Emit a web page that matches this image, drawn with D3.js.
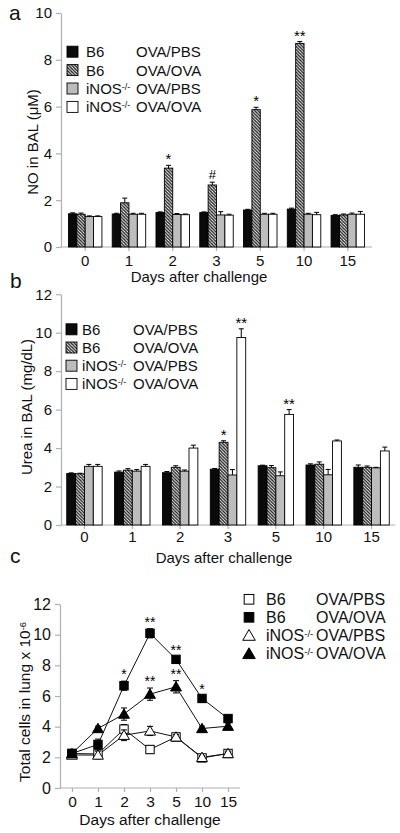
<!DOCTYPE html>
<html><head><meta charset="utf-8">
<script src="https://cdn.jsdelivr.net/npm/d3@7"></script>
<style>
body{margin:0;background:#fff;}
text{font-family:"Liberation Sans",Arial,sans-serif;fill:#111;}
</style></head>
<body><svg id="c" width="400" height="833"></svg>
<script>
// ---------- data ----------
const days = ["0","1","2","3","5","10","15"];
const strains = ["B6","B6","iNOS","iNOS"];
const treatments = ["OVA/PBS","OVA/OVA","OVA/PBS","OVA/OVA"];

// panel a: NO in BAL (uM)
const noB6PBS = [1.42,1.41,1.47,1.47,1.58,1.62,1.35];
const noB6OVA = [1.40,1.89,3.37,2.65,5.87,8.70,1.37];
const noKOPBS = [1.30,1.40,1.39,1.37,1.40,1.40,1.40];
const noKOOVA = [1.30,1.40,1.38,1.36,1.40,1.38,1.40];
const noB6PBSErr = [0.04,0.03,0.03,0.03,0.03,0.04,0.03];
const noB6OVAErr = [0.05,0.20,0.12,0.12,0.10,0.08,0.04];
const noKOPBSErr = [0.03,0.04,0.04,0.14,0.04,0.04,0.05];
const noKOOVAErr = [0.03,0.04,0.03,0.04,0.04,0.10,0.12];
const noMarks = [{d:"2",s:1,t:"*"},{d:"3",s:1,t:"#"},{d:"5",s:1,t:"*"},{d:"10",s:1,t:"**"}];

// panel b: Urea in BAL (mg/dL)
const ureaB6PBS = [2.68,2.75,2.72,2.90,3.08,3.12,3.00];
const ureaB6OVA = [2.66,2.85,3.00,4.30,2.98,3.16,3.00];
const ureaKOPBS = [3.05,2.80,2.80,2.60,2.56,2.61,2.97];
const ureaKOOVA = [3.05,3.05,4.00,9.75,5.75,4.37,3.85];
const ureaB6PBSErr = [0.03,0.06,0.06,0.04,0.03,0.06,0.12];
const ureaB6OVAErr = [0.03,0.08,0.08,0.08,0.11,0.12,0.07];
const ureaKOPBSErr = [0.10,0.08,0.06,0.28,0.20,0.28,0.03];
const ureaKOOVAErr = [0.10,0.10,0.15,0.45,0.25,0.05,0.20];
const ureaMarks = [{d:"3",s:1,t:"*"},{d:"3",s:3,t:"**"},{d:"5",s:3,t:"**"}];

// panel c: Total cells in lung x 10^-6
const cellsB6PBS = [2.25,2.22,3.84,2.51,3.33,1.96,2.25];
const cellsB6OVA = [2.25,2.84,6.67,10.09,8.39,5.84,4.53];
const cellsKOPBS = [2.15,2.15,3.44,3.72,3.33,2.00,2.25];
const cellsKOOVA = [2.25,3.88,4.82,6.12,6.60,3.88,4.03];
const cellsB6PBSErr = [0.2,0.2,0.3,0.25,0.15,0.1,0.15];
const cellsB6OVAErr = [0.2,0.35,0.3,0.3,0.15,0.15,0.15];
const cellsKOPBSErr = [0.2,0.25,0.35,0.3,0.15,0.1,0.15];
const cellsKOOVAErr = [0.2,0.15,0.4,0.4,0.4,0.15,0.2];
const cellMarks = [{d:"2",s:1,t:"*"},{d:"3",s:1,t:"**"},{d:"5",s:1,t:"**"},{d:"10",s:1,t:"*"},{d:"3",s:3,t:"**"},{d:"5",s:3,t:"**"}];

// ---------- drawing ----------
const svg = d3.select("#c");
const axisCol = "#b0b0b0";
const defs = svg.append("defs");
const pat = defs.append("pattern").attr("id","hatch").attr("patternUnits","userSpaceOnUse")
  .attr("width",3.2).attr("height",3.2);
pat.append("rect").attr("width",3.2).attr("height",3.2).attr("fill","#fff");
pat.append("path").attr("d","M0,0 L3.2,3.2 M-1,2.2 L1,4.2 M2.2,-1 L4.2,1")
  .attr("stroke","#222").attr("stroke-width",1.3);
const fills = ["#0a0a0a","url(#hatch)","#bdbdbd","#ffffff"];

function styleAxis(g, fs){
  g.select(".domain").attr("stroke",axisCol).attr("stroke-width",1.2);
  g.selectAll(".tick line").attr("stroke",axisCol).attr("stroke-width",1.2);
  g.selectAll(".tick text").style("font-size",fs+"px").attr("fill","#111");
}

function supLabel(sel, base, sup, after){
  sel.append("tspan").text(base);
  sel.append("tspan").attr("dy","-0.45em").style("font-size","0.6em").text(sup);
  if(after!==undefined) sel.append("tspan").attr("dy","0.27em").text(after);
}

function barPanel(cfg){
  const x0 = d3.scaleBand().domain(days).range([cfg.x0,cfg.x1])
    .paddingInner(cfg.pi).paddingOuter(cfg.po);
  const x1 = d3.scaleBand().domain([0,1,2,3]).range([0,x0.bandwidth()]);
  const y = d3.scaleLinear().domain([0,cfg.ymax]).range([cfg.yb,cfg.yt]);
  const g = svg.append("g");
  const ya = g.append("g").attr("transform",`translate(${cfg.x0},0)`)
    .call(d3.axisLeft(y).tickValues(d3.range(0,cfg.ymax+0.01,2)).tickSize(5).tickPadding(4).tickSizeOuter(0));
  styleAxis(ya,15);
  const xa = g.append("g").attr("transform",`translate(0,${cfg.yb})`)
    .call(d3.axisBottom(x0).tickSize(4).tickPadding(cfg.tp).tickSizeOuter(0));
  xa.select(".domain").attr("d",`M${cfg.x0},0H${cfg.axEnd}`);
  styleAxis(xa,15);
  days.forEach((d,i)=>{
    cfg.series.forEach((arr,s)=>{
      const v = arr[i], e = cfg.errs[s][i];
      const bx = x0(d)+x1(s), bw = x1.bandwidth();
      g.append("rect").attr("x",bx).attr("y",y(v)).attr("width",bw).attr("height",y(0)-y(v))
        .attr("fill",fills[s]).attr("stroke","#000").attr("stroke-width",0.9);
      const cx = bx+bw/2;
      g.append("line").attr("x1",cx).attr("x2",cx).attr("y1",y(v)).attr("y2",y(v+e)).attr("stroke","#000").attr("stroke-width",1);
      g.append("line").attr("x1",cx-2.5).attr("x2",cx+2.5).attr("y1",y(v+e)).attr("y2",y(v+e)).attr("stroke","#000").attr("stroke-width",1);
    });
  });
  cfg.marks.forEach(m=>{
    const i = days.indexOf(m.d);
    const v = cfg.series[m.s][i]+cfg.errs[m.s][i];
    g.append("text").attr("x",x0(m.d)+x1(m.s)+x1.bandwidth()/2).attr("y",y(v)-(m.t==="#"?3:1))
      .attr("text-anchor","middle").attr("fill","#000").style("fill","#000")
      .style("font-size",m.t==="#"?"13px":"15px").text(m.t);
  });
  strains.forEach((s,k)=>{
    const ly = cfg.leg.y + k*cfg.leg.dy;
    g.append("rect").attr("x",cfg.leg.x).attr("y",ly-5.5).attr("width",11).attr("height",11)
      .attr("fill",fills[k]).attr("stroke","#000").attr("stroke-width",0.9);
    const t = g.append("text").attr("x",cfg.leg.tx).attr("y",ly+5.5).style("font-size","15px");
    if(s==="iNOS") supLabel(t,"iNOS","-/-"); else t.text(s);
    g.append("text").attr("x",cfg.leg.tx2).attr("y",ly+5.5).style("font-size","15px").text(treatments[k]);
  });
  g.append("text").attr("x",cfg.xt.x).attr("y",cfg.xt.y).attr("text-anchor","middle").style("font-size","15px").text("Days after challenge");
  g.append("text").attr("transform",`translate(${cfg.yl.x},${cfg.yl.y}) rotate(-90)`).attr("text-anchor","middle")
    .style("font-size","15px").text(cfg.yl.t);
  g.append("text").attr("x",cfg.letter.x).attr("y",cfg.letter.y).style("font-size","21px").text(cfg.letter.t);
}

barPanel({x0:61,x1:372,axEnd:372,pi:0.235,po:0.17,yb:247,yt:13,ymax:10,tp:4,
  series:[noB6PBS,noB6OVA,noKOPBS,noKOOVA],errs:[noB6PBSErr,noB6OVAErr,noKOPBSErr,noKOOVAErr],marks:noMarks,
  leg:{x:67,y:51.7,dy:18.4,tx:86,tx2:136},xt:{x:199,y:282},yl:{x:38,y:142,t:"NO in BAL (μM)"},letter:{x:9,y:20,t:"a"}});

barPanel({x0:61,x1:395,axEnd:395,pi:0.26,po:0.12,yb:525,yt:294.2,ymax:12,tp:2,
  series:[ureaB6PBS,ureaB6OVA,ureaKOPBS,ureaKOOVA],errs:[ureaB6PBSErr,ureaB6OVAErr,ureaKOPBSErr,ureaKOOVAErr],marks:ureaMarks,
  leg:{x:66,y:329.3,dy:18.2,tx:82,tx2:133},xt:{x:224,y:563},yl:{x:32,y:407,t:"Urea in BAL (mg/dL)"},letter:{x:10,y:288,t:"b"}});

// panel c: line chart
(function(){
  const x = d3.scalePoint().domain(days).range([60,240]).padding(0.46);
  const y = d3.scaleLinear().domain([0,12]).range([788,604]);
  const g = svg.append("g");
  const ya = g.append("g").attr("transform","translate(60,0)")
    .call(d3.axisLeft(y).tickValues(d3.range(0,12.01,2)).tickSize(5).tickPadding(4).tickSizeOuter(0));
  styleAxis(ya,16);
  const xa = g.append("g").attr("transform","translate(0,788)")
    .call(d3.axisBottom(x).tickSize(4).tickPadding(4).tickSizeOuter(0));
  xa.select(".domain").attr("d","M60,0H240");
  styleAxis(xa,15.5);
  const series = [cellsB6PBS,cellsB6OVA,cellsKOPBS,cellsKOOVA];
  const errs = [cellsB6PBSErr,cellsB6OVAErr,cellsKOPBSErr,cellsKOOVAErr];
  const shapes = ["sq","sq","tri","tri"], filled = [false,true,false,true];
  const line = d3.line().x((d,i)=>x(days[i])).y(d=>y(d));
  [0,2,3,1].forEach(s=>{
    g.append("path").attr("d",line(series[s])).attr("fill","none").attr("stroke","#111").attr("stroke-width",1);
  });
  function marker(sel,shape,fill,cx,cy,big){
    const k = big?1.15:1;
    if(shape==="sq"){
      sel.append("rect").attr("x",cx-4.2*k).attr("y",cy-4.2*k).attr("width",8.4*k).attr("height",8.4*k)
        .attr("fill",fill?"#000":"#fff").attr("stroke","#000").attr("stroke-width",1);
    } else {
      const h=5.2*k;
      sel.append("path").attr("d",`M${cx},${cy-h}L${cx+h*1.05},${cy+h*0.8}L${cx-h*1.05},${cy+h*0.8}Z`)
        .attr("fill",fill?"#000":"#fff").attr("stroke","#000").attr("stroke-width",1);
    }
  }
  [0,2,3,1].forEach(s=>{
    series[s].forEach((v,i)=>{
      const cx = x(days[i]), e = errs[s][i];
      g.append("line").attr("x1",cx).attr("x2",cx).attr("y1",y(v-e)).attr("y2",y(v+e)).attr("stroke","#000");
      [v-e,v+e].forEach(w=>g.append("line").attr("x1",cx-3).attr("x2",cx+3).attr("y1",y(w)).attr("y2",y(w)).attr("stroke","#000"));
      marker(g,shapes[s],filled[s],cx,y(v),false);
    });
  });
  cellMarks.forEach(m=>{
    const i = days.indexOf(m.d);
    const v = series[m.s][i]+errs[m.s][i];
    g.append("text").attr("x",x(m.d)).attr("y",y(v)-2).attr("text-anchor","middle")
      .style("fill","#000").style("font-size","14px").text(m.t);
  });
  const legY = [599.3,617.3,635,653.3];
  strains.forEach((s,k)=>{
    marker(g,shapes[k],filled[k],249,legY[k]+(shapes[k]==="tri"?0.5:0),true);
    const t = g.append("text").attr("x",266).attr("y",legY[k]+6).style("font-size","16px");
    if(s==="iNOS") supLabel(t,"iNOS","-/-"); else t.text(s);
    g.append("text").attr("x",316).attr("y",legY[k]+6).style("font-size","16px").text(treatments[k]);
  });
  g.append("text").attr("x",150).attr("y",825).attr("text-anchor","middle").style("font-size","15.5px").text("Days after challenge");
  const yl = g.append("text").attr("transform","translate(30,702) rotate(-90)").attr("text-anchor","middle").style("font-size","15.5px");
  supLabel(yl,"Total cells in lung x 10","-6");
  g.append("text").attr("x",10).attr("y",563).style("font-size","21px").text("c");
})();
</script></body></html>
